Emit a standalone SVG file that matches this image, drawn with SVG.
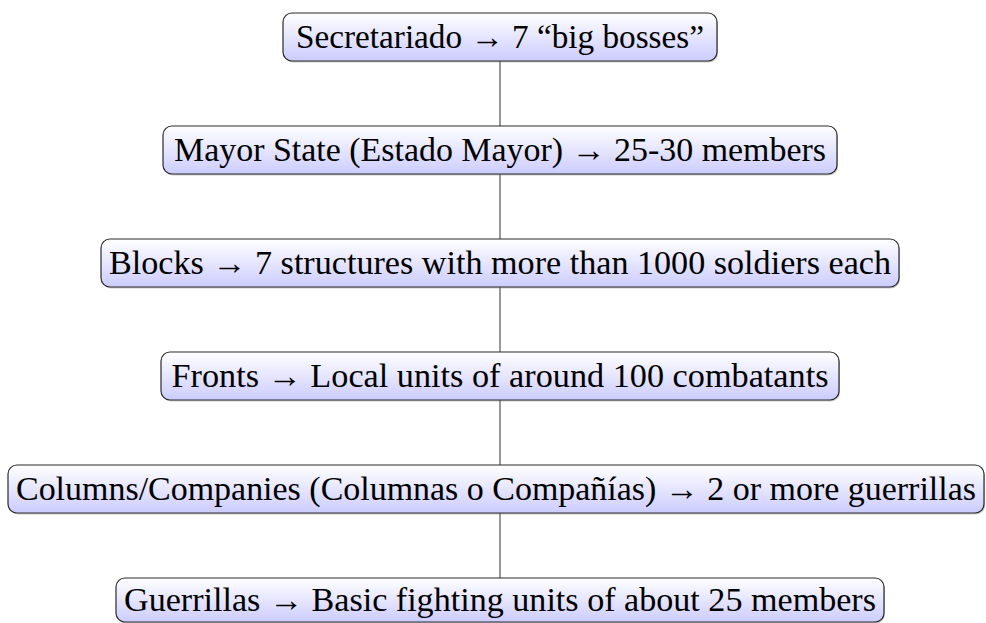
<svg xmlns="http://www.w3.org/2000/svg" width="986" height="623" viewBox="0 0 986 623">
<defs>
<linearGradient id="g" x1="0" y1="0" x2="0" y2="1">
<stop offset="0" stop-color="#ffffff"/>
<stop offset="1" stop-color="#ccccff"/>
</linearGradient>
</defs>
<style>
.box{fill:url(#g);stroke:#2a2a2a;stroke-width:1.2}
.sh{fill:#888;opacity:0.45}
.t{font-family:"Liberation Serif","DejaVu Serif",serif;font-size:33px;fill:#000;text-anchor:middle}
.c{stroke:#555;stroke-width:1.2;fill:none}
</style>
<rect width="986" height="623" fill="#fff"/>
<g id="connectors">
<line class="c" x1="500" y1="61" x2="500" y2="126"/>
<line class="c" x1="500" y1="174" x2="500" y2="239"/>
<line class="c" x1="500" y1="287" x2="500" y2="352"/>
<line class="c" x1="500" y1="400" x2="500" y2="465"/>
<line class="c" x1="500" y1="513" x2="500" y2="578"/>
</g>
<g id="n1">
<rect class="sh" x="284" y="14.5" width="434" height="48" rx="9"/>
<rect class="box" x="283" y="13" width="434" height="48" rx="9"/>
<text class="t" x="500" y="48" textLength="408" lengthAdjust="spacingAndGlyphs">Secretariado → 7 “big bosses”</text>
</g>
<g id="n2">
<rect class="sh" x="164" y="127.5" width="674" height="48" rx="9"/>
<rect class="box" x="163" y="126" width="674" height="48" rx="9"/>
<text class="t" x="500" y="161" textLength="652" lengthAdjust="spacingAndGlyphs">Mayor State (Estado Mayor) → 25-30 members</text>
</g>
<g id="n3">
<rect class="sh" x="102" y="240.5" width="798" height="48" rx="9"/>
<rect class="box" x="101" y="239" width="798" height="48" rx="9"/>
<text class="t" x="500" y="274" textLength="782" lengthAdjust="spacingAndGlyphs">Blocks → 7 structures with more than 1000 soldiers each</text>
</g>
<g id="n4">
<rect class="sh" x="162" y="353.5" width="678" height="48" rx="9"/>
<rect class="box" x="161" y="352" width="678" height="48" rx="9"/>
<text class="t" x="500" y="387" textLength="657" lengthAdjust="spacingAndGlyphs">Fronts → Local units of around 100 combatants</text>
</g>
<g id="n5">
<rect class="sh" x="9" y="466.5" width="976" height="48" rx="9"/>
<rect class="box" x="8" y="465" width="976" height="48" rx="9"/>
<text class="t" x="496" y="500" textLength="960" lengthAdjust="spacingAndGlyphs">Columns/Companies (Columnas o Compañías) → 2 or more guerrillas</text>
</g>
<g id="n6">
<rect class="sh" x="117" y="579.5" width="768" height="44" rx="9"/>
<rect class="box" x="116" y="578" width="768" height="44" rx="9"/>
<text class="t" x="500" y="611" textLength="752" lengthAdjust="spacingAndGlyphs">Guerrillas → Basic fighting units of about 25 members</text>
</g>
</svg>
